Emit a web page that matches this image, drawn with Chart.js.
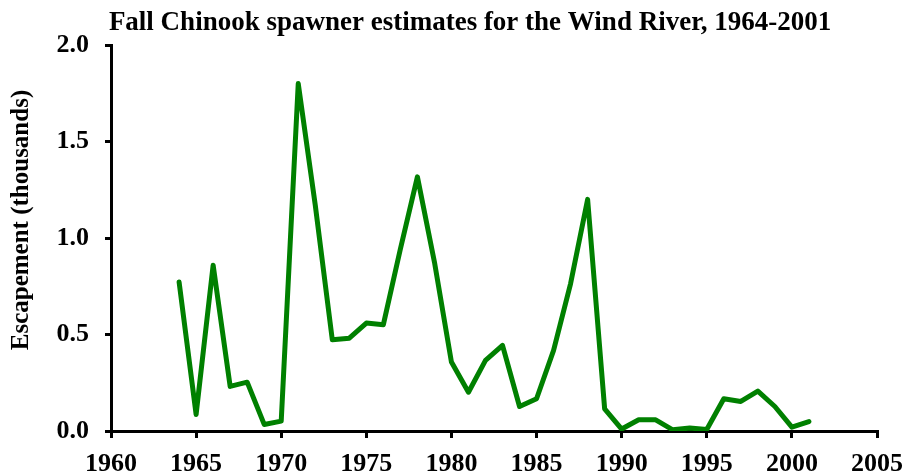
<!DOCTYPE html>
<html>
<head>
<meta charset="utf-8">
<script src="https://cdn.jsdelivr.net/npm/chart.js@4/dist/chart.umd.min.js"></script>
<style>
html,body{margin:0;padding:0;background:#fff;}
#wrap{width:905px;height:476px;position:relative;}
</style>
</head>
<body>
<div id="wrap"><canvas id="c" width="905" height="476"></canvas></div>
<script>
const titleText = 'Fall Chinook spawner estimates for the Wind River, 1964-2001';
const yAxisTitle = 'Escapement (thousands)';
const years = [1964,1965,1966,1967,1968,1969,1970,1971,1972,1973,1974,1975,1976,1977,1978,1979,1980,1981,1982,1983,1984,1985,1986,1987,1988,1989,1990,1991,1992,1993,1994,1995,1996,1997,1998,1999,2000,2001];
const escapement = [0.772,0.086,0.859,0.231,0.253,0.034,0.051,1.80,1.17,0.473,0.481,0.559,0.551,0.943,1.317,0.876,0.357,0.201,0.366,0.444,0.127,0.167,0.418,0.764,1.20,0.115,0.010,0.058,0.058,0.006,0.015,0.008,0.167,0.153,0.207,0.127,0.020,0.049];
const xTicks = [1960,1965,1970,1975,1980,1985,1990,1995,2000,2005];
const yTicks = [0,0.5,1.0,1.5,2.0];

const FONT = '"Liberation Serif", "Times New Roman", serif';

const textPlugin = {
  id: 'customTexts',
  afterDraw(chart) {
    const ctx = chart.ctx;
    ctx.save();
    ctx.fillStyle = '#000';
    ctx.textAlign = 'center';
    ctx.textBaseline = 'alphabetic';
    ctx.font = 'bold 27px ' + FONT;
    ctx.fillText(titleText, 470, 30);
    ctx.translate(22, 220);
    ctx.rotate(-Math.PI / 2);
    ctx.textBaseline = 'middle';
    ctx.font = 'bold 25px ' + FONT;
    ctx.fillText(yAxisTitle, 0, 0);
    ctx.restore();
  }
};

new Chart(document.getElementById('c'), {
  type: 'line',
  data: {
    datasets: [{
      data: years.map((y, i) => ({x: y, y: escapement[i]})),
      borderColor: '#008000',
      backgroundColor: '#008000',
      borderWidth: 5,
      borderJoinStyle: 'round',
      borderCapStyle: 'round',
      pointRadius: 0,
      tension: 0,
      fill: false
    }]
  },
  options: {
    responsive: false,
    animation: false,
    layout: {padding: {top: 45, right: 28, left: 0, bottom: 0}},
    plugins: {legend: {display: false}, tooltip: {enabled: false}, title: {display: false}},
    scales: {
      x: {
        type: 'linear',
        min: xTicks[0], max: xTicks[xTicks.length - 1],
        afterBuildTicks(scale) { scale.ticks = xTicks.map(v => ({value: v})); },
        ticks: {color: '#000', font: {family: FONT, size: 26, weight: 'bold'}, padding: 11, maxRotation: 0, autoSkip: false, callback: v => String(v)},
        grid: {display: true, drawOnChartArea: false, drawTicks: true, tickLength: 7, color: '#000', lineWidth: 3},
        border: {display: true, color: '#000', width: 3},
        afterFit(scale) { scale.height = 45; scale.paddingLeft = 0; scale.paddingRight = 0; }
      },
      y: {
        min: 0, max: 2,
        afterBuildTicks(scale) { scale.ticks = yTicks.map(v => ({value: v})); },
        ticks: {color: '#000', font: {family: FONT, size: 26, weight: 'bold'}, padding: 16, callback: v => Number(v).toFixed(1)},
        grid: {display: true, drawOnChartArea: false, drawTicks: true, tickLength: 6, color: '#000', lineWidth: 3},
        border: {display: true, color: '#000', width: 3},
        afterFit(scale) { scale.width = 111; scale.paddingTop = 0; scale.paddingBottom = 0; }
      }
    }
  },
  plugins: [textPlugin]
});
</script>
</body>
</html>
